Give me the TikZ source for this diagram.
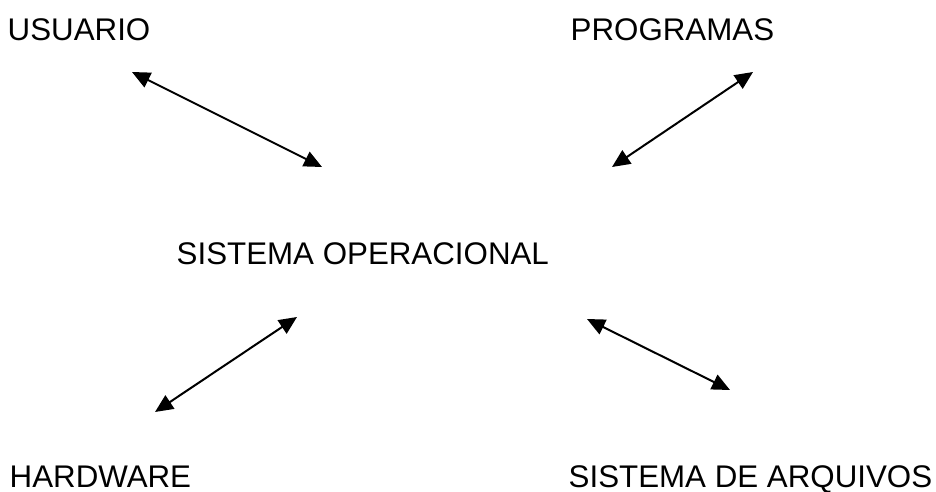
\documentclass[tikz,border=0pt]{standalone}
\usepackage{fontspec}
\setmainfont{Liberation Sans}
\usetikzlibrary{arrows.meta}
\tikzset{
  lbl/.style={anchor=base west, inner sep=0pt, font=\fontsize{31.3}{36}\selectfont},
  link/.style={line width=2pt, {Triangle[length=18pt,width=16pt]}-{Triangle[length=18pt,width=16pt]}}
}
\begin{document}
\begin{tikzpicture}[x=1pt,y=-1pt]
\useasboundingbox (0,0) rectangle (936,492);
\node[lbl] (usuario) at (7.5,41) {USUARIO};
\node[lbl] (programas) at (570.5,41) {PROGRAMAS};
\node[lbl] (so) at (176.5,264) {SISTEMA OPERACIONAL};
\node[lbl] (hardware) at (9.5,487.5) {HARDWARE};
\node[lbl] (arquivos) at (568.5,487.5) {SISTEMA DE ARQUIVOS};
\coordinate (u1) at (132,72);
\coordinate (u2) at (322,167);
\coordinate (p1) at (753,72);
\coordinate (p2) at (612,167);
\coordinate (h1) at (297,317);
\coordinate (h2) at (155,412);
\coordinate (a1) at (587,319);
\coordinate (a2) at (730,390);
\draw[link] (u1) -- (u2);
\draw[link] (p1) -- (p2);
\draw[link] (h1) -- (h2);
\draw[link] (a1) -- (a2);
\end{tikzpicture}
\end{document}
